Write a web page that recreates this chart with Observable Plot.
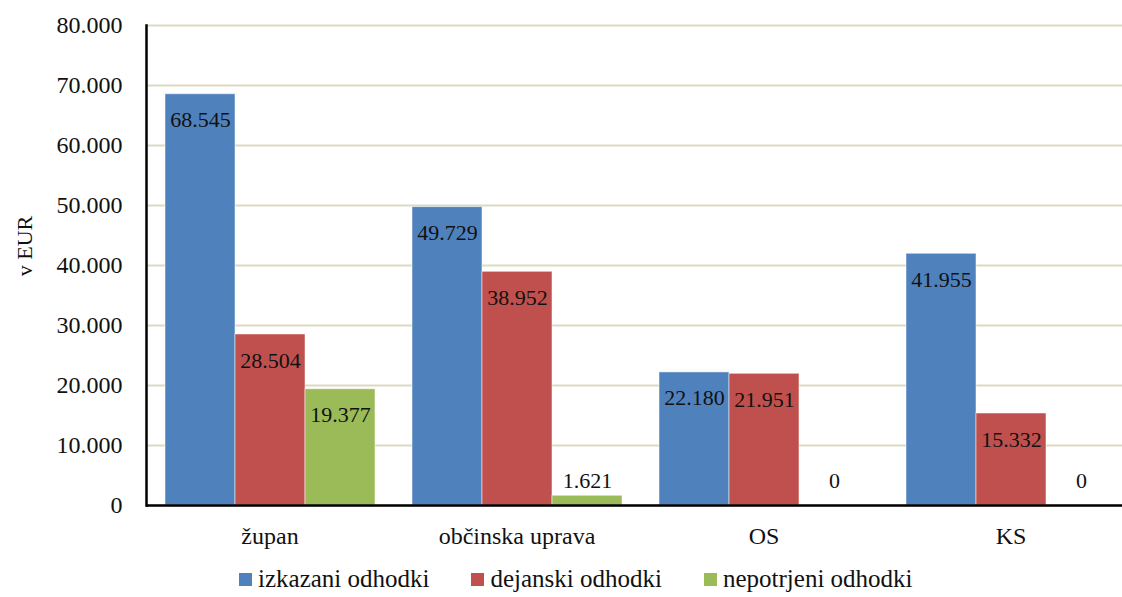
<!DOCTYPE html>
<html>
<head>
<meta charset="utf-8">
<script src="https://cdn.jsdelivr.net/npm/d3@7"></script>
<script src="https://cdn.jsdelivr.net/npm/@observablehq/plot@0.6"></script>
<style>
  body { margin: 0; background: #fff; font-family: "Liberation Serif", "DejaVu Serif", serif; position: relative; }
  #legend { display: flex; align-items: center; padding-left: 239px; height: 40px; margin-top: 4px; font-size: 25px; color: #111; }
  .item { display: flex; align-items: center; margin-right: 42px; }
  .sw { width: 13px; height: 13px; margin-right: 6px; }
  #ylabel { position: absolute; left: 25px; top: 246px; transform: translate(-50%, -50%) rotate(-90deg); font-size: 22px; color: #111; white-space: nowrap; }
</style>
</head>
<body>
<div id="chart"></div>
<div id="legend"></div>
<div id="ylabel">v EUR</div>
<script>
const categories = ["župan", "občinska uprava", "OS", "KS"];
const series = ["izkazani odhodki", "dejanski odhodki", "nepotrjeni odhodki"];
const izkazani = [68545, 49729, 22180, 41955];
const dejanski = [28504, 38952, 21951, 15332];
const nepotrjeni = [19377, 1621, 0, 0];
const yTicks = [0, 10000, 20000, 30000, 40000, 50000, 60000, 70000, 80000];
const colors = ["#4f81bd", "#c0504d", "#9bbb59"];

const values = [izkazani, dejanski, nepotrjeni];
const data = [];
categories.forEach((c, i) => series.forEach((s, j) => data.push({category: c, series: s, value: values[j][i]})));

const fmt = d => d3.format(",")(d).replace(/,/g, ".");

const chart = Plot.plot({
  width: 1122,
  height: 555,
  marginLeft: 146,
  marginRight: -12,
  marginTop: 25,
  marginBottom: 50,
  style: {fontFamily: "'Liberation Serif', 'DejaVu Serif', serif", fontSize: "24px", color: "#111", background: "#fff"},
  fx: {domain: categories, padding: 0, label: null, axis: "bottom", tickSize: 0, tickPadding: 21},
  x: {domain: series, paddingInner: 0, paddingOuter: 0.257, axis: null},
  y: {domain: [0, 80000], ticks: yTicks, tickFormat: fmt, tickSize: 0, tickPadding: 24, label: null},
  color: {domain: series, range: colors},
  marks: [
    Plot.gridY(yTicks, {stroke: "#ddd9c3", strokeOpacity: 1, strokeWidth: 2}),
    Plot.barY(data, {fx: "category", x: "series", y: "value", fill: "series", stroke: "#fff", strokeOpacity: 0.5, strokeWidth: 1}),
    Plot.text(data.filter(d => d.value >= 5000), {fx: "category", x: "series", y: "value", text: d => fmt(d.value), dy: 26, fill: "#111", fontSize: 22}),
    Plot.text(data.filter(d => d.value < 5000), {fx: "category", x: "series", y: () => 0, text: d => fmt(d.value), dy: -25, fill: "#111", fontSize: 22}),
    Plot.ruleY([0], {stroke: "#000", strokeWidth: 2.5}),
    Plot.frame({anchor: "left", stroke: "#000", strokeWidth: 2.5, fx: [categories[0]]})
  ]
});
document.getElementById("chart").appendChild(chart);

const legend = document.getElementById("legend");
series.forEach((s, i) => {
  const item = document.createElement("div");
  item.className = "item";
  const sw = document.createElement("span");
  sw.className = "sw";
  sw.style.background = colors[i];
  const t = document.createElement("span");
  t.textContent = s;
  item.appendChild(sw);
  item.appendChild(t);
  legend.appendChild(item);
});
</script>
</body>
</html>
